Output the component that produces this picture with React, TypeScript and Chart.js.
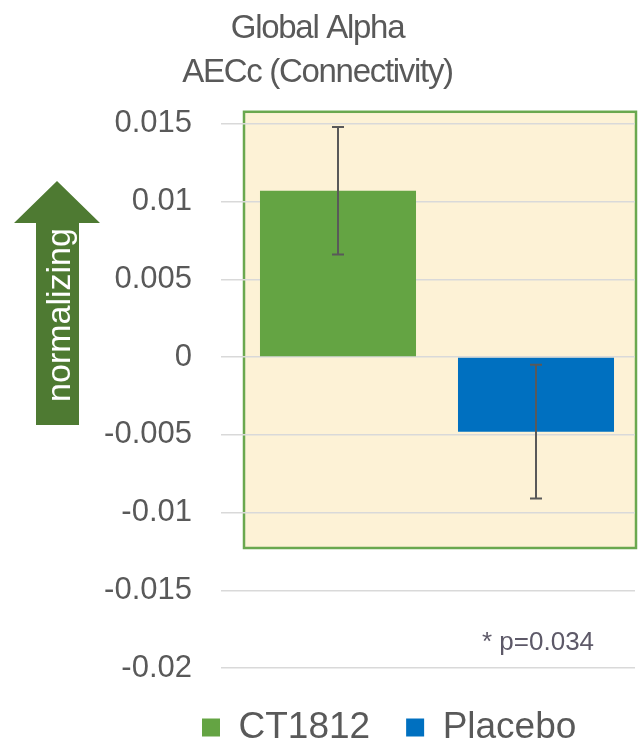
import React, { useEffect, useRef } from 'react';
import { Chart, registerables } from 'chart.js';

Chart.register(...registerables);

// ---- data ----
const CATEGORIES = ['Global Alpha AECc'];
const SERIES_NAMES = ['CT1812', 'Placebo'];
const CT1812_VALUES = [0.0107];
const PLACEBO_VALUES = [-0.0048];
const CT1812_ERRORS = [0.0041];
const PLACEBO_ERRORS = [0.0043];
const Y_TICK_VALUES = [0.015, 0.01, 0.005, 0, -0.005, -0.01, -0.015, -0.02];
const Y_TICK_LABELS = ['0.015', '0.01', '0.005', '0', '-0.005', '-0.01', '-0.015', '-0.02'];
const TITLE_LINES = ['Global Alpha', 'AECc (Connectivity)'];
const ARROW_LABEL = 'normalizing';
const P_VALUE_NOTE = '* p=0.034';

const SERIES_VALUES = [CT1812_VALUES, PLACEBO_VALUES];
const SERIES_ERRORS = [CT1812_ERRORS, PLACEBO_ERRORS];
const SERIES_COLORS = ['#64a443', '#0070c0'];

const FONT = "'Liberation Sans', Arial, sans-serif";
const TEXT_GRAY = '#595959';

const plotBoxPlugin = {
  id: 'plotBox',
  beforeDraw(chart: any) {
    const { ctx, chartArea: a } = chart;
    const left = a.left + 5;
    const right = a.right + 1;
    const top = a.top - 12;
    const bottom = a.bottom - 120;
    ctx.save();
    ctx.fillStyle = '#fdf2d6';
    ctx.fillRect(left, top, right - left, bottom - top);
    ctx.strokeStyle = '#6aa84f';
    ctx.lineWidth = 2.5;
    ctx.strokeRect(left, top, right - left, bottom - top);
    ctx.restore();
  },
};

const errorBarPlugin = {
  id: 'errorBars',
  afterDatasetsDraw(chart: any) {
    const { ctx } = chart;
    const yScale = chart.scales.y;
    ctx.save();
    ctx.strokeStyle = '#595959';
    ctx.lineWidth = 2;
    chart.data.datasets.forEach((ds: any, i: number) => {
      const meta = chart.getDatasetMeta(i);
      meta.data.forEach((el: any, j: number) => {
        const v = SERIES_VALUES[i][j];
        const e = SERIES_ERRORS[i][j];
        const x = el.x;
        const yTop = yScale.getPixelForValue(v + e);
        const yBot = yScale.getPixelForValue(v - e);
        const cap = 6;
        ctx.beginPath();
        ctx.moveTo(x, yTop);
        ctx.lineTo(x, yBot);
        ctx.moveTo(x - cap, yTop);
        ctx.lineTo(x + cap, yTop);
        ctx.moveTo(x - cap, yBot);
        ctx.lineTo(x + cap, yBot);
        ctx.stroke();
      });
    });
    ctx.restore();
  },
};

const decorationsPlugin = {
  id: 'decorations',
  afterDraw(chart: any) {
    const { ctx, chartArea: a } = chart;
    ctx.save();
    // arrow
    ctx.fillStyle = '#4e7a32';
    ctx.beginPath();
    ctx.moveTo(36, 425);
    ctx.lineTo(36, 223);
    ctx.lineTo(14, 223);
    ctx.lineTo(57, 181);
    ctx.lineTo(100, 223);
    ctx.lineTo(79, 223);
    ctx.lineTo(79, 425);
    ctx.closePath();
    ctx.fill();
    ctx.translate(70, 315);
    ctx.rotate(-Math.PI / 2);
    ctx.fillStyle = '#ffffff';
    ctx.font = `34px ${FONT}`;
    ctx.textAlign = 'center';
    ctx.textBaseline = 'alphabetic';
    ctx.fillText(ARROW_LABEL, 0, 0);
    ctx.restore();

    ctx.save();
    ctx.fillStyle = '#5d5968';
    ctx.font = `26px ${FONT}`;
    ctx.textAlign = 'left';
    ctx.textBaseline = 'middle';
    ctx.fillText(P_VALUE_NOTE, a.left + 243, a.bottom - 25);
    ctx.restore();
  },
};

const layoutTweaksPlugin = {
  id: 'layoutTweaks',
  afterInit(chart: any) {
    const tb = chart.titleBlock;
    if (tb && !tb.__condensed) {
      const orig = tb.draw.bind(tb);
      tb.draw = function () {
        const ctx = this.ctx;
        ctx.save();
        (ctx as any).letterSpacing = '-1.3px';
        orig();
        ctx.restore();
      };
      tb.__condensed = true;
    }
  },
  afterLayout(chart: any) {
    const lg = chart.legend;
    if (!lg) return;
    lg.left += 166;
    lg.right += 166;
    lg.top += 5;
    lg.bottom += 5;
  },
};

export default function App() {
  const canvasRef = useRef<HTMLCanvasElement | null>(null);

  useEffect(() => {
    const canvas = canvasRef.current;
    if (!canvas) return;
    const chart = new Chart(canvas, {
      type: 'bar',
      data: {
        labels: CATEGORIES,
        datasets: SERIES_NAMES.map((name, i) => ({
          label: name,
          data: SERIES_VALUES[i],
          backgroundColor: SERIES_COLORS[i],
          borderWidth: 0,
          categoryPercentage: 1,
          barPercentage: 0.788,
        })),
      },
      options: {
        responsive: false,
        animation: false,
        layout: { padding: { left: 0, right: 3, top: 0, bottom: 0 } },
        font: { family: FONT },
        plugins: {
          title: {
            display: true,
            text: TITLE_LINES,
            color: TEXT_GRAY,
            font: { family: FONT, size: 33, weight: 'normal', lineHeight: 1.33 },
            padding: { top: 7, bottom: 29 },
          },
          legend: {
            display: true,
            position: 'bottom',
            align: 'start',
            maxHeight: 75,
            labels: {
              boxWidth: 18,
              boxHeight: 18,
              padding: 36,
              color: TEXT_GRAY,
              font: { family: FONT, size: 37 },
            },
          },
          tooltip: { enabled: false },
        },
        scales: {
          x: {
            display: false,
          },
          y: {
            min: -0.02,
            max: 0.015,
            afterBuildTicks: (scale: any) => {
              scale.ticks = Y_TICK_VALUES.map((v) => ({ value: v }));
            },
            afterFit: (scale: any) => {
              scale.width = 239;
            },
            ticks: {
              padding: 29,
              color: TEXT_GRAY,
              font: { family: FONT, size: 31 },
              callback: (value: any) => {
                const idx = Y_TICK_VALUES.findIndex((v) => Math.abs(v - Number(value)) < 1e-9);
                return idx >= 0 ? Y_TICK_LABELS[idx] : '';
              },
            },
            grid: {
              color: '#d9d9d9',
              lineWidth: 1.5,
              tickLength: 18,
              drawTicks: true,
            },
            border: { display: false },
          },
        },
      },
      plugins: [plotBoxPlugin, errorBarPlugin, decorationsPlugin, layoutTweaksPlugin],
    } as any);
    return () => chart.destroy();
  }, []);

  return (
    <canvas
      ref={canvasRef}
      width={638}
      height={743}
      style={{ position: 'absolute', left: 0, top: 0, display: 'block' }}
    />
  );
}
